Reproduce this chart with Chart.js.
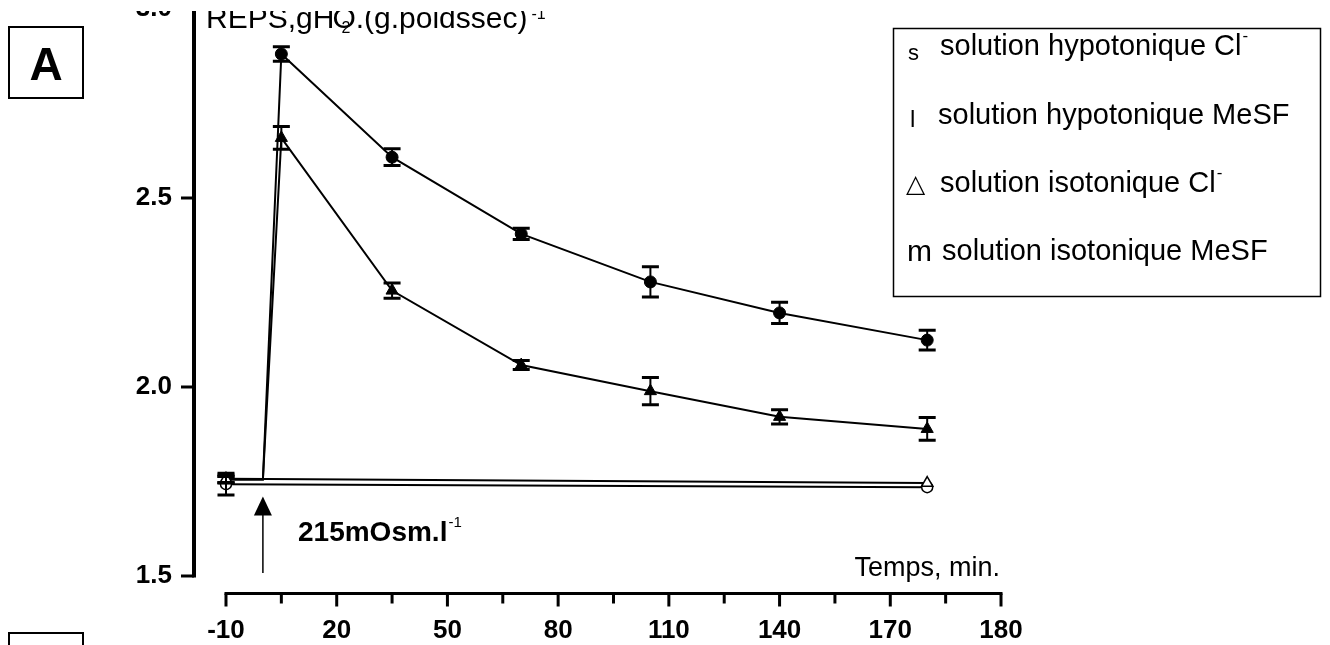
<!DOCTYPE html>
<html>
<head>
<meta charset="utf-8">
<script src="https://cdn.jsdelivr.net/npm/chart.js@4.4.1/dist/chart.umd.min.js"></script>
<style>
  html, body { margin: 0; padding: 0; background: #fff; }
  #frame { position: absolute; left: 0; top: 11px; width: 1330px; height: 634px; overflow: hidden; }
  #c { position: absolute; left: 0; top: -11px; }
</style>
</head>
<body>
<div id="frame"><canvas id="c" width="1330" height="645"></canvas></div>
<script>
// Sampling times (min) and measured REPS values
const times = [-10, 0, 5, 35, 70, 105, 140, 180];
const hypoCl = [1.755, 1.755, 2.659, 2.255, 2.058, 1.989, 1.921, 1.889];
const hypoClErr = [0.008, 0, 0.03, 0.02, 0.012, 0.036, 0.019, 0.03];
const hypoMeSF = [1.755, 1.755, 2.881, 2.608, 2.405, 2.278, 2.196, 2.124];
const hypoMeSFErr = [0.008, 0, 0.019, 0.022, 0.015, 0.04, 0.028, 0.026];
const hypoRadius = [0, 0, 6, 6, 6, 6, 6, 6];

const isoTimes = [-10, 180];
const isoCl = [1.757, 1.746];
const isoClErr = [0.01, 0];
const isoMeSF = [1.743, 1.735];
const isoMeSFErr = [0.029, 0];

// Axis ticks
const xTickValues = [-10, 20, 50, 80, 110, 140, 170, 200];
const xTickLabels = ['-10', '20', '50', '80', '110', '140', '170', '180'];
const xMinorTicks = [5, 35, 65, 95, 125, 155, 185];
const yTickValues = [1.5, 2.0, 2.5, 3.0];

// Legend entries
const legendGlyphs = ['s', 'l', '\u25B3', 'm'];
const legendLabels = ['solution hypotonique Cl', 'solution hypotonique MeSF', 'solution isotonique Cl', 'solution isotonique MeSF'];
const legendCharge = ['-', '', '-', ''];

// Osmotic shock marker
const shockTime = 0;
const shockArrowFrom = 1.508;
const shockArrowTo = 1.71;

const FONT = '"Liberation Sans", Arial, sans-serif';

const pts = (xs, ys) => xs.map((x, i) => ({ x: x, y: ys[i] }));

// Black axis lines with major and minor tick marks
const axisPainter = {
  id: 'axisPainter',
  afterDraw(chart) {
    const { ctx, scales: { x, y }, chartArea } = chart;
    ctx.save();
    ctx.strokeStyle = '#000';
    ctx.lineCap = 'butt';
    // vertical axis
    const ax = chartArea.left + 1;
    const yTop = y.getPixelForValue(yTickValues[yTickValues.length - 1]);
    const yBot = y.getPixelForValue(yTickValues[0]);
    ctx.lineWidth = 4;
    ctx.beginPath(); ctx.moveTo(ax, yTop - 2); ctx.lineTo(ax, yBot + 1.5); ctx.stroke();
    ctx.lineWidth = 3;
    yTickValues.forEach(v => {
      const py = y.getPixelForValue(v);
      ctx.beginPath(); ctx.moveTo(ax - 13, py); ctx.lineTo(ax, py); ctx.stroke();
    });
    // horizontal axis
    const ay = chartArea.bottom + 0.5;
    const xl = x.getPixelForValue(xTickValues[0]);
    const xr = x.getPixelForValue(xTickValues[xTickValues.length - 1]);
    ctx.beginPath(); ctx.moveTo(xl - 1.5, ay); ctx.lineTo(xr + 1.5, ay); ctx.stroke();
    xTickValues.forEach(v => {
      const px = x.getPixelForValue(v);
      ctx.beginPath(); ctx.moveTo(px, ay); ctx.lineTo(px, ay + 13); ctx.stroke();
    });
    xMinorTicks.forEach(v => {
      const px = x.getPixelForValue(v);
      ctx.beginPath(); ctx.moveTo(px, ay); ctx.lineTo(px, ay + 10); ctx.stroke();
    });
    ctx.restore();
  }
};

// Standard-error bars with caps
const errorBars = {
  id: 'errorBars',
  afterDatasetsDraw(chart) {
    const { ctx, scales: { x, y } } = chart;
    ctx.save();
    ctx.strokeStyle = '#000';
    chart.data.datasets.forEach(ds => {
      if (!ds.errors) return;
      ds.data.forEach((p, j) => {
        const e = ds.errors[j];
        if (!e) return;
        const px = x.getPixelForValue(p.x);
        const top = y.getPixelForValue(p.y + e);
        const bot = y.getPixelForValue(p.y - e);
        ctx.lineWidth = 2;
        ctx.beginPath(); ctx.moveTo(px, top); ctx.lineTo(px, bot); ctx.stroke();
        ctx.lineWidth = 3;
        ctx.beginPath();
        ctx.moveTo(px - 8.5, top); ctx.lineTo(px + 8.5, top);
        ctx.moveTo(px - 8.5, bot); ctx.lineTo(px + 8.5, bot);
        ctx.stroke();
      });
    });
    ctx.restore();
  }
};

// Titles, legend box, panel letter and the shock arrow
const annotations = {
  id: 'annotations',
  afterDraw(chart) {
    const { ctx, scales: { x, y } } = chart;
    ctx.save();
    ctx.fillStyle = '#000';
    ctx.strokeStyle = '#000';
    ctx.textBaseline = 'alphabetic';
    ctx.textAlign = 'left';

    // axis title (y)
    ctx.font = '30px ' + FONT;
    const t1 = 'REPS,gH';
    ctx.fillText(t1, 206, 28);
    const w1 = ctx.measureText(t1).width;
    const t2 = 'O.(g.poidssec)';
    ctx.fillText(t2, 206 + w1 - 2, 28);
    const w2 = ctx.measureText(t2).width;
    ctx.font = '16px ' + FONT;
    ctx.fillText('2', 206 + w1 + 7, 33);
    ctx.fillText('-1', 206 + w1 - 2 + w2 + 4, 19);

    // axis title (x)
    ctx.font = '27px ' + FONT;
    ctx.textAlign = 'right';
    ctx.fillText('Temps, min.', 1000, 576);
    ctx.textAlign = 'left';

    // shock arrow
    const ax = x.getPixelForValue(shockTime);
    const aTip = y.getPixelForValue(shockArrowTo);
    const aBot = y.getPixelForValue(shockArrowFrom);
    ctx.lineWidth = 1.5;
    ctx.beginPath(); ctx.moveTo(ax, aBot); ctx.lineTo(ax, aTip + 16); ctx.stroke();
    ctx.beginPath();
    ctx.moveTo(ax, aTip); ctx.lineTo(ax - 9, aTip + 19); ctx.lineTo(ax + 9, aTip + 19);
    ctx.closePath(); ctx.fill();

    ctx.font = 'bold 28px ' + FONT;
    ctx.fillText('215mOsm.l', 298, 541);
    const wl = ctx.measureText('215mOsm.l').width;
    ctx.font = '15px ' + FONT;
    ctx.fillText('-1', 298 + wl + 1, 527);

    // legend box
    ctx.lineWidth = 1.5;
    ctx.strokeRect(893.5, 28.5, 427, 268);
    const base = [55, 124, 192, 260];
    const tx = [940, 938, 940, 942];
    const gFont = ['22px ' + FONT, '24px ' + FONT, '25px "DejaVu Sans", sans-serif', '30px ' + FONT];
    const gX = [908, 910, 906, 907];
    const gBase = [60, 127, 192, 261];
    legendLabels.forEach((lab, i) => {
      ctx.font = gFont[i];
      ctx.fillText(legendGlyphs[i], gX[i], gBase[i]);
      ctx.font = '29px ' + FONT;
      ctx.fillText(lab, tx[i], base[i]);
      if (legendCharge[i]) {
        const w = ctx.measureText(lab).width;
        ctx.font = '17px ' + FONT;
        ctx.fillText(legendCharge[i], tx[i] + w + 1, base[i] - 14);
      }
    });

    // panel letters
    ctx.lineWidth = 2;
    ctx.strokeRect(9, 27, 74, 71);
    ctx.font = 'bold 46px ' + FONT;
    ctx.textAlign = 'center';
    ctx.fillText('A', 46, 80);
    ctx.beginPath();
    ctx.moveTo(9, 650); ctx.lineTo(9, 633); ctx.lineTo(83, 633); ctx.lineTo(83, 650);
    ctx.stroke();
    ctx.restore();
  }
};

const black = '#000';
new Chart(document.getElementById('c'), {
  type: 'line',
  data: {
    datasets: [
      {
        label: 'solution isotonique Cl-',
        data: pts(isoTimes, isoCl), errors: isoClErr,
        borderColor: black, borderWidth: 2, pointStyle: 'triangle', pointRadius: 6.5,
        pointBackgroundColor: '#fff', pointBorderColor: black, pointBorderWidth: 1.5, tension: 0
      },
      {
        label: 'solution isotonique MeSF',
        data: pts(isoTimes, isoMeSF), errors: isoMeSFErr,
        borderColor: black, borderWidth: 2, pointStyle: 'circle', pointRadius: 5.5,
        pointBackgroundColor: '#fff', pointBorderColor: black, pointBorderWidth: 1.5, tension: 0
      },
      {
        label: 'solution hypotonique Cl-',
        data: pts(times, hypoCl), errors: hypoClErr,
        borderColor: black, borderWidth: 2, pointStyle: 'triangle', pointRadius: hypoRadius.map(r => r ? 7 : 0),
        pointBackgroundColor: black, pointBorderColor: black, pointBorderWidth: 1, tension: 0
      },
      {
        label: 'solution hypotonique MeSF',
        data: pts(times, hypoMeSF), errors: hypoMeSFErr,
        borderColor: black, borderWidth: 2, pointStyle: 'circle', pointRadius: hypoRadius,
        pointBackgroundColor: black, pointBorderColor: black, pointBorderWidth: 1, tension: 0
      }
    ]
  },
  options: {
    responsive: false,
    animation: false,
    devicePixelRatio: 1,
    layout: { padding: { left: 0, right: 329, top: 9, bottom: 0 } },
    plugins: { legend: { display: false }, tooltip: { enabled: false } },
    scales: {
      x: {
        type: 'linear', min: -18.94, max: 200,
        grid: { display: false, drawTicks: false },
        border: { display: false },
        afterBuildTicks: s => { s.ticks = xTickValues.map(v => ({ value: v })); },
        afterFit: s => { s.height = 52; s.paddingLeft = 0; s.paddingRight = 0; },
        ticks: {
          autoSkip: false, maxRotation: 0, minRotation: 0, padding: 22, color: black,
          font: { family: FONT, size: 26, weight: 'bold', lineHeight: 1.2 },
          callback: v => xTickLabels[xTickValues.indexOf(v)]
        }
      },
      y: {
        type: 'linear', min: 1.455, max: 3.0,
        grid: { display: false, drawTicks: false },
        border: { display: false },
        afterBuildTicks: s => { s.ticks = yTickValues.map(v => ({ value: v })); },
        afterFit: s => { s.width = 193; s.paddingTop = 0; s.paddingBottom = 0; },
        ticks: {
          autoSkip: false, padding: 21, color: black,
          font: { family: FONT, size: 26, weight: 'bold', lineHeight: 1.2 },
          callback: v => Number(v).toFixed(1)
        }
      }
    }
  },
  plugins: [axisPainter, errorBars, annotations]
});
</script>
</body>
</html>
